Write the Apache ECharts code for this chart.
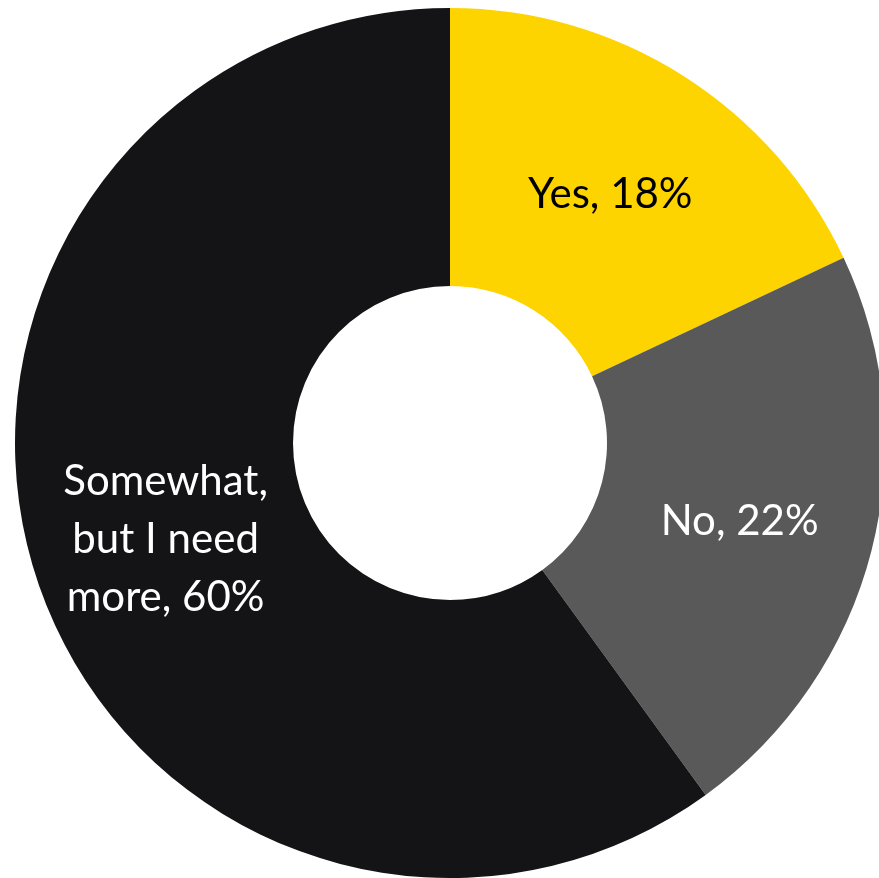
<!DOCTYPE html>
<html>
<head>
<meta charset="utf-8">
<script src="https://cdn.jsdelivr.net/npm/echarts@6/dist/echarts.min.js"></script>
<style>
  html, body { margin: 0; padding: 0; background: #fff; }
  #chart { width: 879px; height: 878px; }
</style>
</head>
<body>
<div id="chart"></div>
<script>
// Survey answers and their shares (percent)
const categories = ['Yes', 'No', 'Somewhat,\nbut I need\nmore'];
const shares = [18, 22, 60];
const sliceColors = ['#FDD400', '#595959', '#141416'];
const labelColors = ['#000000', '#ffffff', '#ffffff'];

const chart = echarts.init(document.getElementById('chart'));

chart.setOption({
  animation: false,
  series: [{
    type: 'pie',
    center: [450, 443],
    radius: [157, 435],
    startAngle: 90,
    clockwise: true,
    avoidLabelOverlap: false,
    emphasis: { disabled: true },
    label: {
      show: true,
      position: 'inside',
      formatter: '{b}, {c}%',
      fontFamily: 'Lato, "Open Sans", sans-serif',
      fontSize: 42,
      lineHeight: 58,
      align: 'center',
      offset: [0, 4]
    },
    labelLine: { show: false },
    data: categories.map((name, i) => ({
      name: name,
      value: shares[i],
      itemStyle: { color: sliceColors[i] },
      label: { color: labelColors[i] }
    }))
  }]
});
</script>
</body>
</html>
